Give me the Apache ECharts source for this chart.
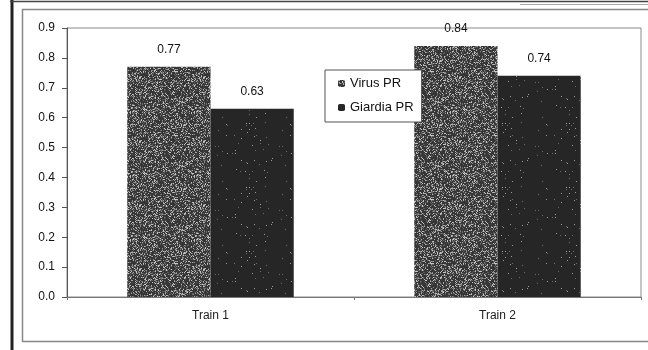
<!DOCTYPE html>
<html>
<head>
<meta charset="utf-8">
<script src="https://cdn.jsdelivr.net/npm/echarts@6/dist/echarts.min.js"></script>
<style>
  html, body { margin: 0; padding: 0; background: #fff; }
  #chart { width: 648px; height: 350px; }
</style>
</head>
<body>
<div id="chart"></div>
<script>
// Categories and series values
const categories = ['Train 1', 'Train 2'];
const virusPR = [0.77, 0.84];
const giardiaPR = [0.63, 0.74];
const seriesNames = ['Virus PR', 'Giardia PR'];
const yTicks = { min: 0, max: 0.9, interval: 0.1 };

// Speckled fill texture built from a fixed hash so it looks the same every time
function speckle(base, dotColors, density, size) {
  const c = document.createElement('canvas');
  c.width = size; c.height = size;
  const ctx = c.getContext('2d');
  ctx.fillStyle = base;
  ctx.fillRect(0, 0, size, size);
  let s = 12345;
  const next = () => { s = (s * 1103515245 + 12345) & 0x7fffffff; return s / 0x7fffffff; };
  for (let y = 0; y < size; y++) {
    for (let x = 0; x < size; x++) {
      const r = next();
      if (r < density) {
        ctx.fillStyle = dotColors[Math.floor(next() * dotColors.length)];
        ctx.fillRect(x, y, 1, 1);
      }
    }
  }
  return c;
}

const virusFill = {
  image: speckle('#363636', ['#8a8a8a', '#a8a8a8', '#6a6a6a', '#c4c4c4', '#5a5a5a'], 0.38, 64),
  repeat: 'repeat'
};
const giardiaFill = {
  image: speckle('#262626', ['#9a9a9a', '#6a6a6a'], 0.012, 64),
  repeat: 'repeat'
};

const FONT = 'Liberation Sans, Arial, sans-serif';

const chart = echarts.init(document.getElementById('chart'), null, { renderer: 'canvas' });

const labelStyle = {
  show: true,
  position: 'top',
  distance: 11,
  fontFamily: FONT,
  fontSize: 12,
  color: '#111',
  formatter: p => p.value.toFixed(2)
};

chart.setOption({
  animation: false,
  backgroundColor: '#ffffff',
  grid: {
    left: 67, top: 28, right: 7, bottom: 53,
    show: true, borderColor: '#8a8a8a', borderWidth: 1
  },
  legend: {
    data: seriesNames,
    orient: 'vertical',
    left: 325, top: 70,
    padding: [7, 8, 8, 13],
    itemGap: 11,
    itemWidth: 7, itemHeight: 7,
    borderColor: '#555', borderWidth: 1,
    backgroundColor: '#fff',
    textStyle: { fontFamily: FONT, fontSize: 13, color: '#111' }
  },
  xAxis: {
    type: 'category',
    data: categories,
    axisLine: { lineStyle: { color: '#777', width: 1 } },
    axisTick: { show: true, length: 3, lineStyle: { color: '#777' } },
    axisLabel: { margin: 13, fontFamily: FONT, fontSize: 12, color: '#222' }
  },
  yAxis: {
    type: 'value',
    min: yTicks.min, max: yTicks.max, interval: yTicks.interval,
    splitLine: { show: false },
    axisLine: { show: true, lineStyle: { color: '#555', width: 1 } },
    axisTick: { show: true, length: 5, lineStyle: { color: '#555' } },
    axisLabel: {
      margin: 12,
      fontFamily: FONT, fontSize: 12, color: '#111',
      formatter: v => v.toFixed(1)
    }
  },
  series: [
    {
      name: seriesNames[0], type: 'bar', data: virusPR,
      barGap: '0%', barCategoryGap: '42%',
      itemStyle: { color: virusFill },
      label: labelStyle
    },
    {
      name: seriesNames[1], type: 'bar', data: giardiaPR,
      barGap: '0%', barCategoryGap: '42%',
      itemStyle: { color: giardiaFill },
      label: labelStyle
    }
  ],
  graphic: [
    // chart area frame
    { type: 'rect', silent: true, shape: { x: 22.5, y: 9.5, width: 660, height: 332 },
      style: { fill: 'none', stroke: '#888', lineWidth: 1.5 } },
    // page border on the left
    { type: 'line', silent: true, shape: { x1: 12, y1: 0, x2: 12, y2: 350 },
      style: { stroke: '#222', lineWidth: 3 } },
    // table rule along the top
    { type: 'line', silent: true, shape: { x1: 10, y1: 1.5, x2: 648, y2: 1.5 },
      style: { stroke: '#444', lineWidth: 1.5 } },
    { type: 'line', silent: true, shape: { x1: 520, y1: 4.5, x2: 648, y2: 4.5 },
      style: { stroke: '#aaa', lineWidth: 1 } }
  ]
});
</script>
</body>
</html>
